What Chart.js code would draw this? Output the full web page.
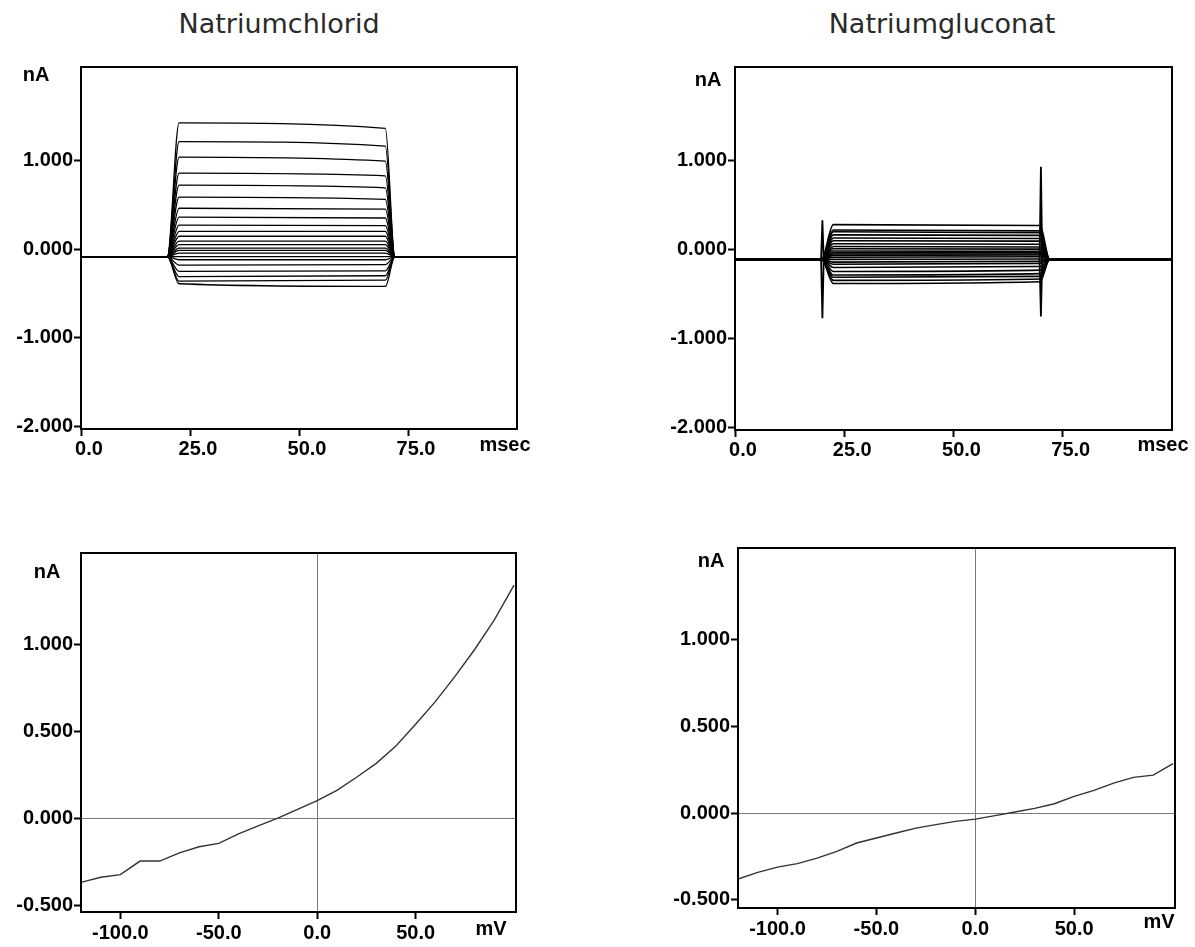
<!DOCTYPE html>
<html>
<head>
<meta charset="utf-8">
<title>Natriumchlorid / Natriumgluconat</title>
<script src="https://cdn.jsdelivr.net/npm/chart.js@4.4.1/dist/chart.umd.min.js"></script>
<style>
  body { margin: 0; background: #fff; width: 1195px; height: 947px; position: relative; overflow: hidden; }
  canvas { position: absolute; }
  .title {
    position: absolute; top: 8px; transform: translateX(-50%); white-space: nowrap;
    font-family: 'DejaVu Sans', sans-serif; font-size: 27px; color: #2a2a2a;
  }
</style>
</head>
<body>
<div class="title" style="left:279px">Natriumchlorid</div>
<div class="title" style="left:942px">Natriumgluconat</div>
<canvas id="clTrace"></canvas>
<canvas id="glTrace"></canvas>
<canvas id="clIV"></canvas>
<canvas id="glIV"></canvas>
<script>
// ---- data ----
// pulse protocol timing in msec (holding, onset, settled, end of pulse, back to holding)
const pulseTimes = [0, 19.8, 22.5, 69.8, 72, 100];

// Natriumchlorid current sweeps (nA): level right after onset and at end of pulse
const clBaseline = -0.085;
const clStart = [1.42, 1.21, 1.035, 0.855, 0.72, 0.585, 0.46, 0.36, 0.27, 0.2, 0.145, 0.09,
                 0.05, 0.01, -0.015, -0.045, -0.085, -0.12, -0.18, -0.25, -0.31, -0.36, -0.39];
const clEnd   = [1.36, 1.16, 0.99, 0.825, 0.69, 0.56, 0.45, 0.35, 0.265, 0.2, 0.145, 0.09,
                 0.05, 0.01, -0.015, -0.045, -0.085, -0.12, -0.175, -0.245, -0.3, -0.35, -0.42];

// Natriumgluconat current sweeps (nA)
const glBaseline = -0.11;
const glStart = [0.28, 0.22, 0.2, 0.165, 0.13, 0.1, 0.065, 0.035, 0.01, -0.015, -0.035, -0.05,
                 -0.065, -0.085, -0.11, -0.14, -0.165, -0.2, -0.245, -0.285, -0.31, -0.345, -0.38];
const glEnd   = [0.27, 0.21, 0.19, 0.16, 0.125, 0.095, 0.06, 0.03, 0.005, -0.02, -0.035, -0.05,
                 -0.06, -0.08, -0.105, -0.13, -0.155, -0.19, -0.23, -0.27, -0.3, -0.33, -0.36];
// capacitive transients at pulse on/off
const glSpikeTimes = [20, 70];
const glSpikeHigh = [0.33, 0.93];
const glSpikeLow = [-0.77, -0.75];

// current-voltage relations
const ivVoltages = [-120, -110, -100, -90, -80, -70, -60, -50, -40, -30, -20, -10,
                    0, 10, 20, 30, 40, 50, 60, 70, 80, 90, 100];
const clIVCurrent = [-0.37, -0.34, -0.325, -0.247, -0.247, -0.2, -0.165, -0.145, -0.09, -0.045, 0.0, 0.05,
                     0.1, 0.16, 0.235, 0.315, 0.415, 0.54, 0.67, 0.815, 0.97, 1.14, 1.34];
const glIVCurrent = [-0.381, -0.342, -0.312, -0.292, -0.26, -0.221, -0.173, -0.144, -0.115, -0.087, -0.067, -0.048,
                     -0.035, -0.015, 0.006, 0.027, 0.054, 0.096, 0.131, 0.173, 0.206, 0.219, 0.285];

// tick labels
const traceXTicks = [0, 25, 50, 75];
const traceYTicks = [-2, -1, 0, 1];
const ivXTicks = [-100, -50, 0, 50];
const ivYTicks = [-0.5, 0, 0.5, 1];

// ---- layout (canvas box and plot area in page pixels) ----
const panels = {
  clTrace: { box: { left: 0, top: 45, width: 560, height: 425 }, area: { l: 81, t: 67, r: 517, b: 429 },
             yUnit: [-45, 8], xUnit: [-12, 16] },
  glTrace: { box: { left: 650, top: 45, width: 545, height: 425 }, area: { l: 735, t: 67, r: 1172, b: 430 },
             yUnit: [-27, 13], xUnit: [-9, 15] },
  clIV:    { box: { left: 0, top: 530, width: 560, height: 417 }, area: { l: 81, t: 553, r: 516, b: 912 },
             yUnit: [-34, 19], xUnit: [-25, 17] },
  glIV:    { box: { left: 650, top: 530, width: 545, height: 417 }, area: { l: 738, t: 548, r: 1175, b: 908 },
             yUnit: [-27, 13], xUnit: [-16, 14] }
};

const labelFont = { family: "'Liberation Sans', Arial, sans-serif", size: 20, weight: 'bold' };

// frame round the plot area plus the unit labels
const framePlugin = {
  id: 'frame',
  afterDraw(chart, args, opts) {
    const { ctx, chartArea: a } = chart;
    ctx.save();
    ctx.strokeStyle = '#000';
    ctx.lineWidth = 2;
    ctx.strokeRect(a.left, a.top, a.right - a.left, a.bottom - a.top);
    ctx.fillStyle = '#000';
    ctx.font = "bold 20px 'Liberation Sans', Arial, sans-serif";
    ctx.textAlign = 'center';
    ctx.textBaseline = 'middle';
    ctx.fillText(opts.yUnit, a.left + opts.yUnitPos[0], a.top + opts.yUnitPos[1]);
    ctx.fillText(opts.xUnit, a.right + opts.xUnitPos[0], a.bottom + opts.xUnitPos[1]);
    ctx.restore();
  }
};

function sweepDataset(base, start, end, width) {
  const levels = [base, base, start, end, base, base];
  return {
    data: pulseTimes.map((t, i) => ({ x: t, y: levels[i] })),
    borderColor: '#000',
    borderWidth: width,
    pointRadius: 0,
    cubicInterpolationMode: 'monotone'
  };
}

function spikeDataset(t, hi, lo, base) {
  return {
    data: [{ x: t - 0.3, y: base }, { x: t, y: hi }, { x: t + 0.3, y: base },
           { x: t, y: lo }, { x: t - 0.3, y: base }],
    borderColor: '#000',
    borderWidth: 1.8,
    pointRadius: 0
  };
}

function makeChart(id, datasets, opt) {
  const p = panels[id];
  const canvas = document.getElementById(id);
  canvas.width = p.box.width;
  canvas.height = p.box.height;
  canvas.style.left = p.box.left + 'px';
  canvas.style.top = p.box.top + 'px';
  const yW = p.area.l - p.box.left;
  const xH = p.box.top + p.box.height - p.area.b;
  const zeroLine = ctx => (opt.crosshair && ctx.tick && ctx.tick.value === 0) ? '#7a7a7a' : 'rgba(0,0,0,0)';

  return new Chart(canvas, {
    type: 'line',
    data: { datasets: datasets },
    options: {
      responsive: false,
      animation: false,
      events: [],
      layout: { padding: { top: p.area.t - p.box.top, right: p.box.left + p.box.width - p.area.r, left: 0, bottom: 0 } },
      plugins: {
        legend: { display: false },
        tooltip: { enabled: false },
        frame: { yUnit: 'nA', xUnit: opt.xUnit, yUnitPos: p.yUnit, xUnitPos: p.xUnit }
      },
      scales: {
        x: {
          type: 'linear',
          min: opt.xMin, max: opt.xMax,
          afterBuildTicks: s => { s.ticks = opt.xTicks.map(v => ({ value: v })); },
          afterFit: s => { s.height = xH; },
          border: { display: true, color: '#000', width: 2 },
          grid: { drawOnChartArea: !!opt.crosshair, color: zeroLine, lineWidth: 1,
                  drawTicks: true, tickLength: 7, tickColor: '#000', tickWidth: 2 },
          ticks: { color: '#000', font: labelFont, padding: opt.xPad, labelOffset: opt.xLabelOffset,
                   maxRotation: 0, autoSkip: false, callback: v => v.toFixed(1) }
        },
        y: {
          type: 'linear',
          min: opt.yMin, max: opt.yMax,
          afterBuildTicks: s => { s.ticks = opt.yTicks.map(v => ({ value: v })); },
          afterFit: s => { s.width = yW; },
          border: { display: true, color: '#000', width: 2 },
          grid: { drawOnChartArea: !!opt.crosshair, color: zeroLine, lineWidth: 1,
                  drawTicks: true, tickLength: 7, tickColor: '#000', tickWidth: 2 },
          ticks: { color: '#000', font: labelFont, padding: 1, autoSkip: false, callback: v => v.toFixed(3) }
        }
      }
    },
    plugins: [framePlugin]
  });
}

// top left: chloride sweeps
makeChart('clTrace',
  clStart.map((s, i) => sweepDataset(clBaseline, s, clEnd[i], 1.3)),
  { xUnit: 'msec', xMin: 0, xMax: 100, yMin: -2.025, yMax: 2.05, xTicks: traceXTicks, yTicks: traceYTicks,
    xPad: 1, xLabelOffset: 8 });

// top right: gluconate sweeps with transients
const glSets = glStart.map((s, i) => sweepDataset(glBaseline, s, glEnd[i], 1.6));
glSpikeTimes.forEach((t, i) => glSets.push(spikeDataset(t, glSpikeHigh[i], glSpikeLow[i], glBaseline)));
makeChart('glTrace', glSets,
  { xUnit: 'msec', xMin: 0, xMax: 100, yMin: -2.025, yMax: 2.05, xTicks: traceXTicks, yTicks: traceYTicks,
    xPad: 1, xLabelOffset: 8 });

function ivDataset(values) {
  return {
    data: ivVoltages.map((v, i) => ({ x: v, y: values[i] })),
    borderColor: '#333',
    borderWidth: 1.4,
    pointRadius: 0
  };
}

// bottom: I-V curves
makeChart('clIV', [ivDataset(clIVCurrent)],
  { xUnit: 'mV', xMin: -120, xMax: 101, yMin: -0.54, yMax: 1.525, xTicks: ivXTicks, yTicks: ivYTicks,
    xPad: 2, xLabelOffset: 0, crosshair: true });

makeChart('glIV', [ivDataset(glIVCurrent)],
  { xUnit: 'mV', xMin: -120, xMax: 101, yMin: -0.548, yMax: 1.53, xTicks: ivXTicks, yTicks: ivYTicks,
    xPad: 2, xLabelOffset: 0, crosshair: true });
</script>
</body>
</html>
